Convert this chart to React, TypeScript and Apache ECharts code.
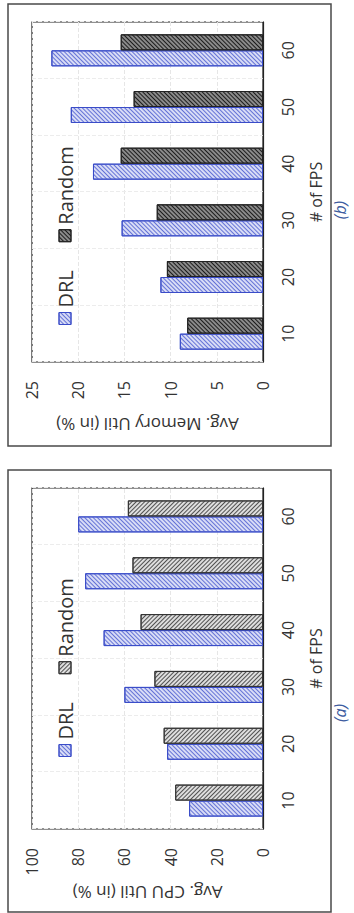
import React, { useEffect, useRef } from "react";
import * as echarts from "echarts";

const categories = ["10", "20", "30", "40", "50", "60"];
const cpuDRL = [32, 41.5, 60, 69, 77, 80];
const cpuRandom = [38, 43, 47, 53, 56.5, 58.5];
const memDRL = [9.0, 11.1, 15.3, 18.4, 20.8, 22.9];
const memRandom = [8.2, 10.4, 11.5, 15.4, 14.0, 15.4];
const seriesNames = ["DRL", "Random"];
const cpuTitle = "Avg. CPU Util (in %)";
const memTitle = "Avg. Memory Util (in %)";
const catTitle = "# of FPS";
const captions = ["(a)", "(b)"];

const FONT = "'Open Sans', 'Noto Sans', sans-serif";
const TXT = "#333333";

const drlStyle = {
  color: "#d8dcf6",
  borderColor: "#3a4cc8",
  borderWidth: 1,
  decal: {
    symbol: "rect",
    symbolSize: 1,
    dashArrayX: [1, 0],
    dashArrayY: [1, 2],
    rotation: -Math.PI / 4,
    color: "#6472d6",
  },
};
const randStyleA = {
  color: "#dedede",
  borderColor: "#333",
  borderWidth: 1,
  decal: {
    symbol: "rect",
    symbolSize: 1,
    dashArrayX: [1, 0],
    dashArrayY: [1, 2],
    rotation: Math.PI / 4,
    color: "#505050",
  },
};
const randStyleB = {
  color: "#8a8a8a",
  borderColor: "#222",
  borderWidth: 1,
  decal: {
    symbol: "rect",
    symbolSize: 1,
    dashArrayX: [1, 0],
    dashArrayY: [1, 1.5],
    rotation: -Math.PI / 4,
    color: "#1c1c1c",
  },
};

function makeXAxis(gridIndex: number) {
  return {
    type: "category",
    gridIndex,
    data: categories,
    axisLine: { show: true, lineStyle: { color: "#222", width: 1.2 } },
    axisTick: { show: false },
    axisLabel: { fontSize: 16, color: TXT, margin: 17, fontFamily: FONT },
    splitLine: { show: true, interval: 0, lineStyle: { color: "#ececec", type: "dashed" } },
    name: catTitle,
    nameLocation: "middle",
    nameGap: 45,
    nameTextStyle: { fontSize: 16, color: TXT, fontFamily: FONT },
  };
}

function makeYAxis(gridIndex: number, max: number, interval: number, title: string, gap: number) {
  return {
    type: "value",
    gridIndex,
    min: 0,
    max,
    interval,
    axisLine: { show: false },
    axisTick: { show: false },
    axisLabel: { fontSize: 16, color: TXT, margin: 19, fontFamily: FONT },
    splitLine: { show: true, lineStyle: { color: "#e6e6e6", type: "dashed" } },
    name: title,
    nameLocation: "middle",
    nameGap: gap,
    nameRotate: 90,
    nameTextStyle: { fontSize: 17, color: TXT, fontFamily: FONT },
  };
}

function makeLegend(left: number, randStyle: any) {
  return {
    left,
    top: 50,
    orient: "horizontal",
    icon: "rect",
    itemWidth: 12,
    itemHeight: 12,
    itemGap: 28,
    selectedMode: false,
    textStyle: { fontSize: 20, color: TXT, fontFamily: FONT },
    data: [
      { name: seriesNames[0], icon: "rect", itemStyle: drlStyle },
      { name: seriesNames[1], icon: "rect", itemStyle: randStyle },
    ],
  };
}

export default function App() {
  const ref = useRef<HTMLDivElement>(null);
  useEffect(() => {
    if (!ref.current) return;
    const chart = echarts.init(ref.current, null, { renderer: "svg" });
    const option: any = {
      animation: false,
      backgroundColor: "#fff",
      textStyle: { fontFamily: FONT },
      grid: [
        { left: 84, top: 32, width: 341, height: 231, show: true, borderColor: "#222", borderWidth: 1.2, backgroundColor: "transparent" },
        { left: 551, top: 32, width: 340, height: 231, show: true, borderColor: "#222", borderWidth: 1.2, backgroundColor: "transparent" },
      ],
      xAxis: [makeXAxis(0), makeXAxis(1)],
      yAxis: [makeYAxis(0, 100, 20, cpuTitle, 55), makeYAxis(1, 25, 5, memTitle, 54)],
      legend: [makeLegend(151, randStyleA), makeLegend(583, randStyleB)],
      series: [
        { type: "bar", name: seriesNames[0], xAxisIndex: 0, yAxisIndex: 0, data: cpuDRL, barWidth: 16, barGap: "0%", itemStyle: drlStyle },
        { type: "bar", name: seriesNames[1], xAxisIndex: 0, yAxisIndex: 0, data: cpuRandom, barWidth: 16, barGap: "0%", itemStyle: randStyleA },
        { type: "bar", name: seriesNames[0], xAxisIndex: 1, yAxisIndex: 1, data: memDRL, barWidth: 16, barGap: "0%", itemStyle: drlStyle },
        { type: "bar", name: seriesNames[1], xAxisIndex: 1, yAxisIndex: 1, data: memRandom, barWidth: 16, barGap: "0%", itemStyle: randStyleB },
      ],
      graphic: [
        { type: "rect", shape: { x: 1, y: 8, width: 442, height: 323 }, style: { fill: "none", stroke: "#4a4a4a", lineWidth: 1.5 }, silent: true },
        { type: "rect", shape: { x: 467, y: 8, width: 442, height: 323 }, style: { fill: "none", stroke: "#4a4a4a", lineWidth: 1.5 }, silent: true },
        { type: "text", x: 200, y: 340, style: { text: captions[0], fontSize: 16, fontStyle: "italic", fill: "#3d5ca0", fontFamily: FONT, align: "center", verticalAlign: "middle" }, silent: true },
        { type: "text", x: 703, y: 340, style: { text: captions[1], fontSize: 16, fontStyle: "italic", fill: "#3d5ca0", fontFamily: FONT, align: "center", verticalAlign: "middle" }, silent: true },
      ],
    };
    chart.setOption(option);
    return () => chart.dispose();
  }, []);
  return (
    <div style={{ position: "fixed", left: 0, top: 0, width: 354, height: 913, overflow: "hidden", background: "#fff" }}>
      <div
        ref={ref}
        style={{
          position: "absolute",
          left: 0,
          top: 0,
          width: 913,
          height: 354,
          transformOrigin: "0 0",
          transform: "translateY(913px) rotate(-90deg)",
        }}
      />
    </div>
  );
}
